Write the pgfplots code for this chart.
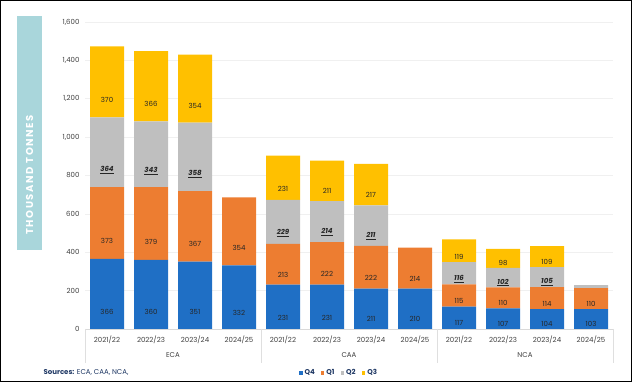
\documentclass[border=0pt]{standalone}
\usepackage{pgfplots}
\pgfplotsset{compat=1.18}
\usepackage{pgfplotstable}
\usepackage{fontspec}
\setmainfont{Poppins}
\definecolor{cQ4}{HTML}{1F6FC5}
\definecolor{cQ1}{HTML}{ED7D31}
\definecolor{cQ2}{HTML}{BFBFBF}
\definecolor{cQ3}{HTML}{FFC000}
\definecolor{tealbox}{HTML}{A9D6DB}
\definecolor{txt}{HTML}{404040}
\definecolor{lbl}{HTML}{262626}
\definecolor{navy}{HTML}{1F3864}

\pgfplotstableread{
x q4 q1 q2 q3 l4 l1 l2 l3
0 366 373 364 370 366 373 364 370
1 360 379 343 366 360 379 343 366
2 351 367 358 354 351 367 358 354
3 332 354 0 0 332 354 {} {}
4 231 213 229 231 231 213 229 231
5 231 222 214 211 231 222 214 211
6 211 222 211 217 211 222 211 217
7 210 214 0 0 210 214 {} {}
8 117 115 116 119 117 115 116 119
9 107 110 102 98 107 110 102 98
10 104 114 105 109 104 114 105 109
11 103 110 15 0 103 110 {} {}
}\data

\begin{document}
\begin{tikzpicture}[x=1pt,y=1pt]
\draw[line width=1pt] (0.5,0.5) rectangle (631.5,381.5);
\fill[tealbox] (17,132) rectangle (42,366);
\node[rotate=90, text=white, font=\bfseries\addfontfeatures{LetterSpace=16}\fontsize{10}{11}\selectfont] at (29.5,207) {THOUSAND TONNES};
\node[anchor=west, font=\fontsize{7}{8}\selectfont, text=navy] at (40,9) {\textbf{Sources:} ECA, CAA, NCA,};
\begin{axis}[
  at={(85pt,53pt)}, anchor=south west,
  scale only axis, width=528pt, height=307pt,
  ybar stacked, bar width=34pt,
  xmin=-0.5, xmax=11.5, ymin=0, ymax=1600,
  xtick={0,...,11},
  xticklabels={2021/22,2022/23,2023/24,2024/25,2021/22,2022/23,2023/24,2024/25,2021/22,2022/23,2023/24,2024/25},
  ytick={0,200,...,1600},
  ymajorgrids, grid style={gray!12, line width=0.6pt},
  axis x line*=bottom, axis y line*=left,
  x axis line style={draw=gray!30},
  y axis line style={draw=none},
  major tick length=0pt,
  tick label style={font=\fontsize{7}{8}\selectfont, text=txt},
  xticklabel style={yshift=-3pt},
  yticklabel style={xshift=-2pt},
  /pgf/number format/.cd, 1000 sep={,}, assume math mode=true, /pgfplots/.cd,
  clip=false,
  point meta=explicit symbolic,
  nodes near coords,
  visualization depends on=rawy \as \rawy,
  every node near coord/.append style={anchor=center, shift={(axis direction cs:0,-\rawy/4)}, font=\fontsize{7}{8}\selectfont, text=lbl},
  legend columns=4,
  legend style={at={(axis description cs:0.481,-0.143)}, anchor=center, draw=none, fill=none,
    font=\bfseries\fontsize{7}{8}\selectfont, text=navy,
    /tikz/every even column/.append style={column sep=4pt}},
  legend image code/.code={\fill[#1] (0pt,-1.8pt) rectangle (3.6pt,1.8pt);},
]
\addplot[fill=cQ4, draw=none] table[x=x, y=q4, meta=l4] {\data};
\addplot[fill=cQ1, draw=none] table[x=x, y=q1, meta=l1] {\data};
\addplot[fill=cQ2, draw=none, nodes near coords={\underline{\textbf{\textit{\pgfplotspointmeta}}}}] table[x=x, y=q2, meta=l2] {\data};
\addplot[fill=cQ3, draw=none] table[x=x, y=q3, meta=l3] {\data};
\legend{Q4,Q1,Q2,Q3}
\foreach \s in {-0.5,3.5,7.5,11.5} {
  \edef\tmp{\noexpand\draw[gray!25, line width=0.6pt] (axis cs:\s,0) -- ++(0pt,-34pt);}\tmp
}
\node[font=\fontsize{7}{8}\selectfont, text=txt] at (axis cs:1.5,0) [yshift=-26pt] {ECA};
\node[font=\fontsize{7}{8}\selectfont, text=txt] at (axis cs:5.5,0) [yshift=-26pt] {CAA};
\node[font=\fontsize{7}{8}\selectfont, text=txt] at (axis cs:9.5,0) [yshift=-26pt] {NCA};
\end{axis}
\end{tikzpicture}
\end{document}
